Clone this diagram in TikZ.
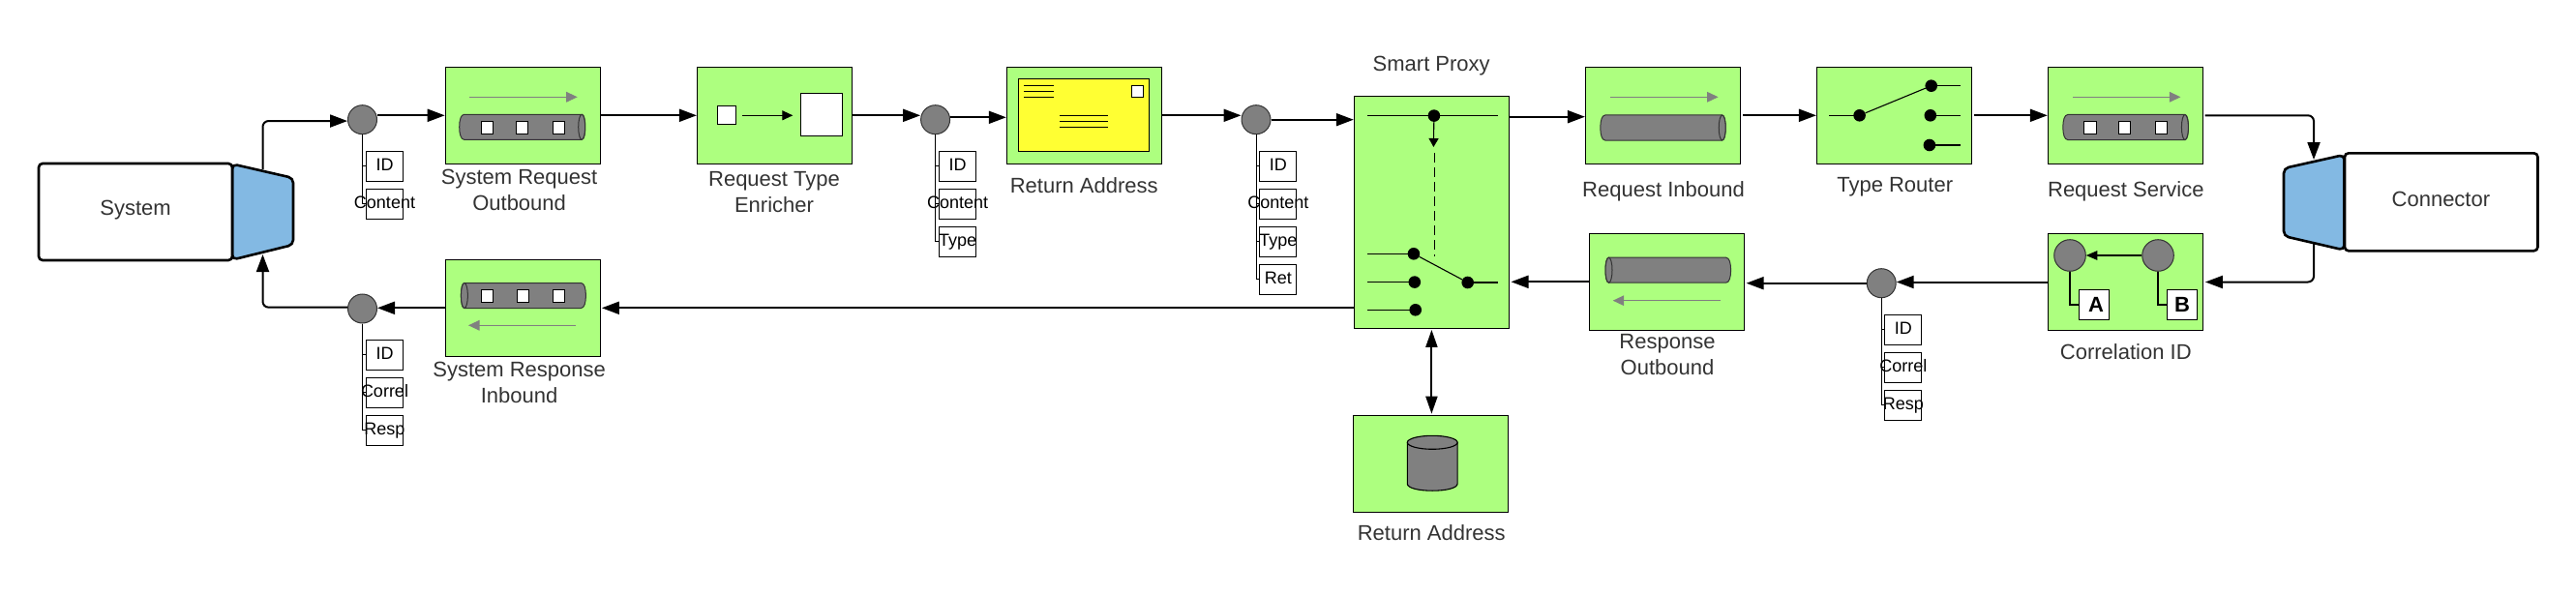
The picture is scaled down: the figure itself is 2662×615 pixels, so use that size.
\documentclass[tikz,border=0pt]{standalone}
\usepackage{fontspec}
\setmainfont{Liberation Sans}
\usetikzlibrary{arrows.meta}
\definecolor{eipgreen}{HTML}{ADFF7F}
\definecolor{eipblue}{HTML}{83B9E3}
\definecolor{eipyellow}{HTML}{FFFF33}
\definecolor{eipgray}{HTML}{808080}
\definecolor{eiptext}{HTML}{333333}
\tikzset{
  greenbox/.style={draw=black,line width=1.2pt,fill=eipgreen,minimum width=160pt,minimum height=100pt,inner sep=0pt},
  caption/.style={text=eiptext,align=center,inner sep=0pt,font=\fontsize{22}{26.7}\selectfont},
  msgdot/.style={circle,draw=eiptext,line width=1pt,fill=eipgray,minimum size=30pt,inner sep=0pt},
  blackdot/.style={circle,fill=black,minimum size=12.6pt,inner sep=0pt},
  tagbox/.style={draw=black,line width=1pt,minimum width=38pt,minimum height=31pt,inner sep=0pt,font=\fontsize{18}{20}\selectfont},
  whitebox/.style={draw=black,line width=1.1pt,fill=white,inner sep=0pt},
  flow/.style={line width=2pt,-{Triangle[length=18pt,width=13pt]}},
  tagline/.style={line width=1pt},
  wire/.style={line width=1.1pt},
  smallarrow/.style={line width=1.1pt,-{Triangle[length=11pt,width=10pt]}},
  grayarrow/.style={draw=eipgray,line width=1.1pt,-{Triangle[length=11.5pt,width=10.6pt]},eipgray},
  pipebody/.style={draw=eiptext,line width=1pt,fill=eipgray},
  letterbox/.style={whitebox,minimum width=31.4pt,minimum height=31.4pt,font=\bfseries\fontsize{22}{24}\selectfont},
  endbox/.style={draw=black,line width=2.6pt,rounded corners=4pt,fill=white},
  adapter/.style={draw=black,line width=2.6pt,rounded corners=5pt,fill=eipblue},
}
% origin at the rounded end, runs #3 long in direction #4 (1 or -1)
\newcommand{\pipeicon}[4]{%
  \begin{scope}[shift={(#1,#2)},xscale=#4]
    \draw[pipebody] (#3-3.5,0) -- (5,0) .. controls (1.5,0) and (0,6) .. (0,13)
      .. controls (0,20) and (1.5,26) .. (5,26) -- (#3-3.5,26)
      .. controls (#3-1,26) and (#3,20) .. (#3,13) .. controls (#3,6) and (#3-1,0) .. (#3-3.5,0) -- cycle;
    \draw[pipebody] (#3-3.5,13) ellipse [x radius=3.5,y radius=13];
  \end{scope}}
\newcommand{\sq}[2]{\draw[whitebox,line width=1pt] (#1,#2) rectangle ++(12.4,13);}
\newcommand{\tg}[1]{\makebox[0pt]{#1\vphantom{Ag}}}
\begin{document}
\begin{tikzpicture}[x=1pt,y=-1pt]
\useasboundingbox (0,0) rectangle (2662,615);

% end systems
\draw[adapter] (240,169.5) -- (303,184) -- (303,253) -- (240,268.5) -- cycle;
\node[endbox,minimum width=200pt,minimum height=100pt,inner sep=0pt] (system) at (140,219) {};
\node[caption] at (140,217.5) {System};
\draw[adapter] (2422.5,160) -- (2360,174) -- (2360,244) -- (2422.5,258.5) -- cycle;
\node[endbox,minimum width=199.5pt,minimum height=101pt,inner sep=0pt] (connector) at (2522.7,208.8) {};
\node[caption] at (2522.4,205.5) {Connector};
\coordinate (systop) at (271.5,175);
\coordinate (sysbot) at (271.5,263);
\coordinate (contop) at (2391,165);
\coordinate (conbot) at (2391,251.5);

% green boxes
\node[greenbox] (sysreq) at (540.3,119.3) {};
\node[greenbox] (enrich) at (800.5,119.3) {};
\node[greenbox] (retaddr) at (1120.4,119.3) {};
\node[greenbox,minimum height=240pt] (proxy) at (1479.4,219.3) {};
\node[greenbox] (reqin) at (1718.5,119.3) {};
\node[greenbox] (router) at (1957.5,119.3) {};
\node[greenbox] (reqsvc) at (2196.4,119.3) {};
\node[greenbox] (sysresp) at (540.3,318.3) {};
\node[greenbox] (respout) at (1722.5,291.3) {};
\node[greenbox] (corr) at (2196.3,291.5) {};
\node[greenbox] (store) at (1478.6,479.3) {};

% captions
\node[caption] at (536.6,196.5) {System Request\\Outbound};
\node[caption] at (800,198.5) {Request Type\\Enricher};
\node[caption] at (1120.2,192) {Return Address};
\node[caption] at (1479.2,68) {Smart Proxy};
\node[caption] at (1719,198) {Request Inbound};
\node[caption] at (1958.2,193.5) {Type Router};
\node[caption] at (2196.8,198) {Request Service};
\node[caption] at (536.6,395.5) {System Response\\Inbound};
\node[caption] at (1723,366.5) {Response\\Outbound};
\node[caption] at (2196.8,364) {Correlation ID};
\node[caption] at (1479.2,551) {Return Address};

% pipes with message squares
\draw[grayarrow] (485,100.3) -- (596.7,100.3);
\pipeicon{474.7}{118.3}{130}{1}
\sq{497.3}{125.5}\sq{533.3}{125.5}\sq{571}{125.5}
\draw[grayarrow] (595,336.3) -- (484,336.3);
\pipeicon{605.4}{292.5}{129}{-1}
\sq{497.3}{299.3}\sq{534.5}{299.3}\sq{571}{299.3}
\draw[grayarrow] (1664,100.3) -- (1775.6,100.3);
\pipeicon{1653.8}{119}{129.4}{1}
\draw[grayarrow] (1777.9,310.7) -- (1666.7,310.7);
\pipeicon{1788.6}{266.2}{129.6}{-1}
\draw[grayarrow] (2141.9,100.3) -- (2253.4,100.3);
\pipeicon{2131.8}{118.5}{129.6}{1}
\sq{2153.8}{125.5}\sq{2189.5}{125.5}\sq{2227}{125.5}

% enricher icon
\node[whitebox,minimum width=18.5pt,minimum height=19.4pt] (enrsmall) at (750.8,119) {};
\node[whitebox,minimum width=43.3pt,minimum height=44pt] (enrlarge) at (849,118.3) {};
\draw[smallarrow] (enrsmall) ++(16.2,0.3) -- ++(52.3,0);

% envelope icon
\node[draw=black,line width=1.1pt,fill=eipyellow,minimum width=135.4pt,minimum height=75pt,inner sep=0pt] (envelope) at (1120,118.8) {};
\foreach \y in {88.3,94.3,100.3} \draw[line width=0.9pt] (1058,\y) -- (1089,\y);
\foreach \y in {119,125.3,131.3} \draw[line width=0.9pt] (1095,\y) -- (1145,\y);
\node[whitebox,minimum width=12.4pt,minimum height=12.4pt] (stamp) at (1175.5,94.5) {};

% proxy icon
\node[blackdot] (pt) at (1481.9,119.6) {};
\draw[wire] (pt.center) ++(-68.9,0) -- ++(135,0);
\coordinate (ptarrow) at (1481.4,152);
\draw[smallarrow,-{Triangle[length=9pt,width=10pt]}] (pt) -- (ptarrow);
\coordinate (dashtop) at (1482.8,158.3);
\coordinate (dashbot) at (1482.8,265);
\draw[wire,dash pattern=on 10pt off 5pt] (dashtop) -- (dashbot);
\node[blackdot] (pa) at (1460.9,262.3) {};
\node[blackdot] (pb) at (1461.8,291.6) {};
\node[blackdot] (pc) at (1462.7,320.3) {};
\node[blackdot] (pd) at (1516.7,292) {};
\draw[wire] (pa.center) -- ++(-47.9,0);
\draw[wire] (pb.center) -- ++(-48.8,0);
\draw[wire] (pc.center) -- ++(-49.7,0);
\draw[wire] (pd.center) -- ++(31.3,0);
\draw[wire] (pa) -- (pd);

% router icon
\node[blackdot] (ra) at (1921.6,119.3) {};
\node[blackdot] (rb) at (1995.7,88.7) {};
\node[blackdot] (rc) at (1994.8,119.3) {};
\node[blackdot] (rd) at (1993.9,150) {};
\draw[wire] (ra.center) -- ++(-31.7,0);
\draw[wire] (rb.center) -- ++(30.3,0);
\draw[wire] (rc.center) -- ++(31.2,0);
\draw[wire] (rd.center) -- ++(32.1,0);
\draw[wire] (ra) -- (rb);

% correlation icon
\node[msgdot,minimum size=32.6pt] (cora) at (2139,264) {};
\node[msgdot,minimum size=32.6pt] (corb) at (2230,264) {};
\draw[smallarrow,-{Triangle[length=11.5pt,width=9.5pt]}] (corb) -- (cora);
\node[letterbox] (taga) at (2164,315) {\hspace{4pt}A};
\node[letterbox] (tagb) at (2255,315) {B};
\draw[wire] (cora) |- (taga);
\draw[wire] (corb) |- (tagb);

% store icon
\draw[pipebody,draw=black,line width=1.1pt] (1454.3,457.3) -- (1454.3,500) .. controls (1454.3,504.5) and (1466,507.2) .. (1480.2,507.2)
  .. controls (1494.4,507.2) and (1506.1,504.5) .. (1506.1,500) -- (1506.1,457.3) -- cycle;
\draw[pipebody,draw=black,line width=1.1pt] (1480.2,457.3) ellipse [x radius=25.9,y radius=7];

% message dots and their tags
\node[msgdot] (m1) at (374.5,123.7) {};
\node[tagbox] (m1a) at (397.5,171.8) {\tg{ID}};
\node[tagbox] (m1b) at (397.5,210.8) {\tg{Content}};
\draw[tagline] (m1) |- (m1a);
\draw[tagline] (m1) |- (m1b);

\node[msgdot] (m2) at (966.6,123.7) {};
\node[tagbox] (m2a) at (989.6,171.8) {\tg{ID}};
\node[tagbox] (m2b) at (989.6,210.8) {\tg{Content}};
\node[tagbox] (m2c) at (989.6,249.8) {\tg{Type}};
\draw[tagline] (m2) |- (m2a);
\draw[tagline] (m2) |- (m2b);
\draw[tagline] (m2) |- (m2c);

\node[msgdot] (m3) at (1298,123.7) {};
\node[tagbox] (m3a) at (1320.9,171.8) {\tg{ID}};
\node[tagbox] (m3b) at (1320.9,210.8) {\tg{Content}};
\node[tagbox] (m3c) at (1320.9,249.8) {\tg{Type}};
\node[tagbox] (m3d) at (1320.9,288.8) {\tg{Ret}};
\draw[tagline] (m3) |- (m3a);
\draw[tagline] (m3) |- (m3b);
\draw[tagline] (m3) |- (m3c);
\draw[tagline] (m3) |- (m3d);

\node[msgdot] (m4) at (1944.2,292.7) {};
\node[tagbox] (m4a) at (1966.9,340.8) {\tg{ID}};
\node[tagbox] (m4b) at (1966.9,379.8) {\tg{Correl}};
\node[tagbox] (m4c) at (1966.9,418.8) {\tg{Resp}};
\draw[tagline] (m4) |- (m4a);
\draw[tagline] (m4) |- (m4b);
\draw[tagline] (m4) |- (m4c);

\node[msgdot] (m5) at (374.5,319) {};
\node[tagbox] (m5a) at (397.5,366.8) {\tg{ID}};
\node[tagbox] (m5b) at (397.5,405.8) {\tg{Correl}};
\node[tagbox] (m5c) at (397.5,444.8) {\tg{Resp}};
\draw[tagline] (m5) |- (m5a);
\draw[tagline] (m5) |- (m5b);
\draw[tagline] (m5) |- (m5c);

% main flow, request side
\draw[flow,rounded corners=6pt] (systop) |- (m1.185);
\draw[flow] (sysreq.west -| m1.east) -- (sysreq.west);
\draw[flow] (sysreq.east) -- (enrich.west);
\draw[flow] (enrich.east) -- (enrich.east -| m2.west);
\draw[flow] ([yshift=-2pt]retaddr.west -| m2.east) -- ([yshift=-2pt]retaddr.west);
\draw[flow] (retaddr.east) -- (retaddr.east -| m3.west);
\draw[flow] (m3.east) -- (m3.east -| proxy.west);
\draw[flow] ([yshift=-1.4pt]reqin.west -| proxy.east) -- ([yshift=-1.4pt]reqin.west);
\draw[flow,shorten <=2pt] (reqin.east) -- (router.west);
\draw[flow,shorten <=1.5pt] (router.east) -- (reqsvc.west);
\draw[flow,rounded corners=6pt,shorten <=1.5pt] (reqsvc.east) -| (contop);

% main flow, response side
\draw[flow,rounded corners=6pt,shorten >=2pt] (conbot) |- (corr.east);
\draw[flow] (corr.west) -- (corr.west -| m4.east);
\draw[flow,shorten >=1.5pt] (m4.west) -- (m4.west -| respout.east);
\draw[flow,shorten >=1.5pt] (respout.west) -- (respout.west -| proxy.east);
\draw[flow,shorten >=1pt] (proxy.west |- sysresp.east) -- (sysresp.east);
\draw[flow] (sysresp.west) -- (sysresp.west -| m5.east);
\draw[flow,rounded corners=6pt] (m5.175) -| (sysbot);

% store link
\draw[line width=2pt,{Triangle[length=18pt,width=12pt]}-{Triangle[length=18pt,width=12pt]},shorten >=1pt,shorten <=1pt] (proxy.south) -- (proxy.south |- store.north);
\end{tikzpicture}
\end{document}
